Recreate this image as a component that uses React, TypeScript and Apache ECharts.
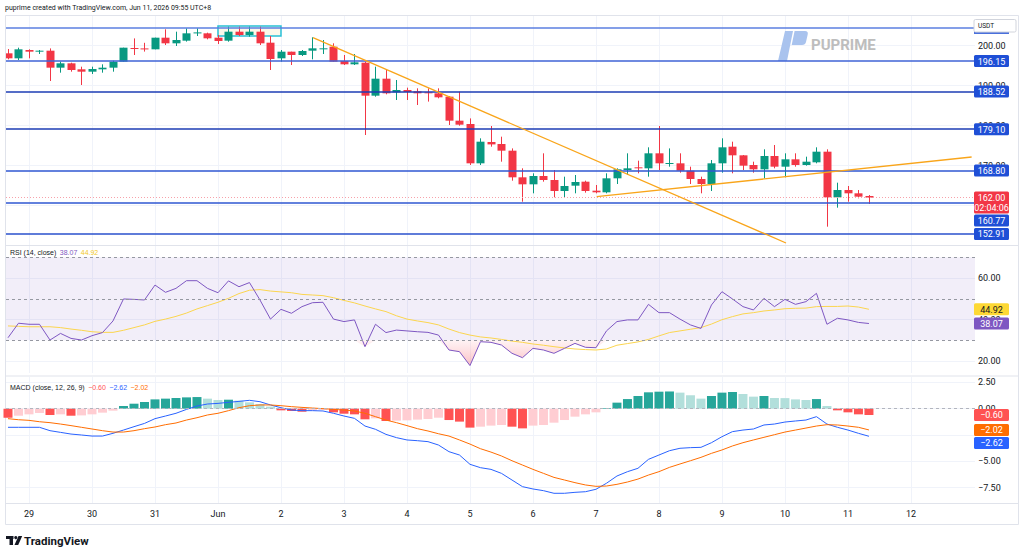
import React, { useEffect, useRef } from "react";
import * as echarts from "echarts";

const FONT = "Roboto, 'Liberation Sans', Arial, sans-serif";
const TEXT = "#131722";
const GRID = "#f0f3fa";
const BORDER = "#e0e3eb";
const UP = "#089981";
const DOWN = "#f23645";

// 4H candles from May 28 16:00 to Jun 11 08:00 (UTC+8): [open, close, low, high]
const candles: number[][] = [
  [198.07, 196.82, 196.57, 199.15], [196.82, 199.07, 196.4, 199.48], [198.9, 198.48, 196.82, 199.07],
  [198.48, 198.73, 197.9, 198.9], [198.73, 194.48, 191.15, 199.3], [194.48, 195.57, 193.23, 196.0],
  [195.57, 193.9, 193.48, 195.73], [194.07, 193.48, 190.15, 194.73], [193.48, 194.15, 192.9, 194.73],
  [194.07, 194.48, 193.23, 195.32], [194.48, 195.98, 193.48, 196.23], [195.98, 199.48, 195.98, 199.48],
  [199.4, 199.3, 197.65, 201.8], [199.3, 199.2, 198.5, 200.7], [199.07, 201.98, 199.07, 201.98],
  [201.98, 200.57, 200.15, 204.07], [200.57, 201.4, 199.9, 203.48], [201.23, 203.07, 201.0, 204.32],
  [203.07, 203.3, 202.4, 204.32], [203.07, 201.82, 201.57, 203.23], [201.98, 201.15, 200.4, 202.65],
  [201.23, 203.48, 200.98, 204.73], [203.48, 202.65, 202.4, 204.73], [202.65, 203.48, 202.23, 204.73],
  [203.48, 200.57, 200.15, 204.73], [200.73, 196.65, 193.9, 202.4], [196.82, 198.48, 195.98, 198.9],
  [198.48, 197.65, 195.15, 198.48], [197.65, 198.65, 197.4, 198.9], [198.73, 199.32, 196.57, 202.07],
  [199.07, 199.32, 197.9, 201.4], [199.73, 195.98, 195.98, 200.57], [196.15, 195.32, 195.15, 197.65],
  [195.32, 195.82, 195.15, 197.9], [195.73, 187.48, 177.65, 195.98], [187.48, 191.73, 187.23, 194.73],
  [191.73, 188.07, 187.82, 193.9], [188.32, 188.9, 186.4, 191.4], [188.9, 188.4, 186.4, 189.48],
  [188.57, 188.07, 185.15, 189.32], [188.32, 188.23, 186.0, 189.32], [188.07, 187.07, 186.82, 189.32],
  [187.23, 181.23, 180.15, 187.4], [181.23, 180.23, 179.98, 188.48], [180.4, 170.57, 170.15, 181.8],
  [170.57, 175.98, 170.15, 176.82], [175.9, 175.3, 174.73, 179.9], [175.4, 173.73, 170.98, 177.23],
  [173.73, 167.07, 166.23, 174.3], [167.07, 165.32, 160.98, 169.32], [165.32, 167.4, 163.07, 168.07],
  [167.4, 166.4, 165.98, 173.07], [166.4, 163.65, 162.07, 168.9], [163.65, 164.9, 161.98, 167.23],
  [164.98, 165.9, 163.07, 167.65], [165.98, 163.65, 163.23, 166.23], [163.73, 163.32, 163.07, 165.15],
  [163.32, 166.82, 163.07, 168.07], [166.82, 169.07, 165.4, 169.32], [168.9, 169.32, 167.65, 173.07],
  [169.57, 169.32, 168.07, 171.23], [169.32, 173.07, 167.23, 174.57], [173.07, 170.57, 168.9, 179.9],
  [170.4, 170.65, 169.73, 174.3], [170.57, 168.73, 168.23, 173.07], [168.73, 166.65, 165.4, 169.73],
  [166.65, 165.4, 163.07, 167.23], [165.4, 170.57, 163.65, 171.4], [170.57, 174.57, 168.23, 176.82],
  [174.73, 172.57, 168.07, 175.98], [172.57, 169.98, 168.9, 172.65], [170.15, 169.07, 168.23, 170.98],
  [169.07, 172.4, 166.82, 174.07], [172.4, 169.73, 169.32, 175.15], [169.73, 171.57, 167.07, 173.07],
  [171.57, 170.15, 169.73, 173.07], [170.15, 170.98, 169.98, 172.23], [170.82, 173.48, 170.57, 174.57],
  [173.48, 162.07, 154.73, 174.07], [162.07, 163.9, 159.48, 165.73], [163.9, 163.07, 160.98, 164.9],
  [163.07, 162.23, 161.82, 163.9], [162.4, 162.0, 160.4, 162.65],
];

const dayLabels = ["29", "30", "31", "Jun", "2", "3", "4", "5", "6", "7", "8", "9", "10", "11", "12"];
const firstDayIndex = 2; // candle index of May 29 00:00
const candlesPerDay = 6;

const topLevel = 204.4;
const levels = [196.15, 188.52, 179.1, 168.8, 160.77, 152.91];
const lastPrice = 162.0;
const countdown = "02:04:06";
const trendDown = [[29.05, 201.97], [74.1, 150.65]];
const trendUp = [[56.07, 162.22], [91.78, 172.15]];
const boxZone = [[20, 204.9], [26, 202.4]];

const rsi = [
  31.2, 38.2, 37.7, 37.7, 30.1, 33.3, 30.9, 30.1, 32.2, 33.7,
  39.3, 49.9, 49.7, 49.4, 56.6, 53.1, 55.0, 58.7, 58.7, 55.0,
  52.9, 58.6, 55.8, 57.8, 49.4, 40.2, 44.9, 43.0, 46.2, 48.1,
  48.3, 40.2, 39.0, 39.8, 26.9, 37.7, 33.7, 34.9, 34.5, 34.1,
  33.8, 32.5, 25.3, 24.5, 17.8, 29.3, 29.0, 27.7, 23.7, 21.6,
  26.1, 25.3, 23.7, 26.1, 28.5, 26.6, 26.4, 34.5, 39.0, 39.8,
  39.8, 47.3, 43.3, 43.3, 40.2, 37.4, 35.7, 47.0, 53.4, 49.9,
  46.2, 44.6, 50.2, 46.2, 49.7, 47.3, 48.6, 52.6, 37.7, 40.6,
  39.8, 38.6, 38.07,
];
const rsiMa = [
  36.9, 36.7, 36.5, 36.5, 36.5, 36.1, 35.4, 34.8, 34.1, 33.8,
  33.8, 34.8, 36.1, 37.4, 39.1, 40.2, 41.5, 43.1, 45.1, 46.7,
  48.3, 50.2, 52.5, 54.1, 54.4, 53.7, 53.3, 52.9, 52.1, 51.8,
  51.5, 50.5, 49.2, 48.0, 46.5, 45.1, 43.8, 41.8, 40.2, 39.3,
  38.5, 37.4, 35.4, 33.7, 32.5, 31.6, 31.1, 30.4, 29.6, 29.0,
  28.2, 27.6, 26.9, 26.3, 25.8, 25.5, 25.3, 25.8, 27.6, 28.4,
  29.2, 30.4, 32.1, 33.7, 34.5, 35.3, 36.1, 37.8, 39.9, 41.4,
  42.7, 43.3, 44.1, 44.6, 45.2, 45.4, 45.5, 46.2, 46.3, 46.3,
  46.5, 46.0, 44.92,
];
const rsiBands = [70, 50, 30];

const macd = [
  -1.77, -1.77, -1.77, -1.77, -2.09, -2.25, -2.41, -2.5, -2.6, -2.6,
  -2.34, -2.03, -1.71, -1.4, -0.95, -0.7, -0.44, -0.07, 0.25, 0.44,
  0.5, 0.6, 0.69, 0.79, 0.66, 0.35, 0.09, -0.13, -0.19, -0.19,
  -0.22, -0.44, -0.7, -0.92, -1.65, -1.96, -2.44, -2.75, -2.97, -3.04,
  -3.13, -3.45, -4.08, -4.4, -5.28, -5.6, -5.76, -6.14, -6.77, -7.4,
  -7.62, -7.78, -8.03, -8.03, -7.94, -7.88, -7.65, -7.08, -6.39, -5.98,
  -5.66, -4.81, -4.4, -3.99, -3.76, -3.7, -3.67, -3.23, -2.66, -2.18,
  -2.03, -1.93, -1.55, -1.46, -1.27, -1.17, -1.08, -0.76, -1.46, -1.77,
  -2.03, -2.34, -2.62,
];
const signal = [
  -0.95, -1.05, -1.11, -1.24, -1.33, -1.46, -1.61, -1.77, -1.93, -2.09,
  -2.22, -2.22, -2.09, -1.9, -1.74, -1.52, -1.36, -1.08, -0.86, -0.6,
  -0.44, -0.19, 0.09, 0.28, 0.35, 0.35, 0.28, 0.19, 0.12, 0.06,
  0.0, -0.07, -0.13, -0.22, -0.44, -0.76, -1.08, -1.33, -1.61, -1.9,
  -2.12, -2.38, -2.6, -2.97, -3.36, -3.8, -4.12, -4.49, -4.94, -5.35,
  -5.76, -6.14, -6.52, -6.77, -7.02, -7.24, -7.37, -7.34, -7.18, -6.96,
  -6.68, -6.3, -5.98, -5.57, -5.25, -4.94, -4.62, -4.24, -3.92, -3.54,
  -3.23, -2.97, -2.72, -2.47, -2.22, -2.03, -1.84, -1.65, -1.52, -1.55,
  -1.65, -1.77, -2.02,
];
const hist = [
  -0.86, -0.67, -0.54, -0.41, -0.6, -0.54, -0.67, -0.64, -0.54, -0.38,
  -0.19, 0.25, 0.47, 0.63, 0.88, 0.95, 1.01, 1.07, 1.1, 0.95,
  0.82, 0.85, 0.76, 0.6, 0.44, 0.19, -0.16, -0.22, -0.29, -0.19,
  -0.13, -0.35, -0.48, -0.54, -1.01, -0.92, -1.17, -1.14, -1.11, -1.04,
  -0.98, -0.86, -1.08, -1.23, -1.8, -1.71, -1.61, -1.55, -1.71, -1.87,
  -1.61, -1.55, -1.33, -1.08, -0.76, -0.54, -0.35, 0.06, 0.57, 0.91,
  1.2, 1.55, 1.61, 1.63, 1.52, 1.27, 0.95, 1.2, 1.52, 1.58,
  1.39, 1.14, 1.2, 1.01, 1.0, 0.88, 0.82, 0.91, 0.25, -0.16,
  -0.35, -0.54, -0.6,
];

// horizontal scale: candle index, shared by the three panes
const X_MIN = -0.19;
const X_MAX = 92.1;
const dayTicks = dayLabels.map((_, i) => firstDayIndex + i * candlesPerDay);

const fmt = (v: number) => (v < 0 ? "\u2212" : "") + Math.abs(v).toFixed(2);

function xAxis(gridIndex: number, labels: boolean) {
  return {
    type: "value",
    gridIndex,
    min: X_MIN,
    max: X_MAX,
    axisLine: { show: false },
    axisTick: { show: false, customValues: dayTicks },
    splitLine: { show: true, lineStyle: { color: GRID, width: 1 } },
    axisLabel: {
      show: labels,
      customValues: dayTicks,
      margin: 6,
      color: TEXT,
      fontFamily: FONT,
      fontSize: 9,
      formatter: (v: number) => dayLabels[Math.round((v - firstDayIndex) / candlesPerDay)] ?? "",
    },
  };
}

// grid lines at every tick; labels only where the scale shows them
function yAxis(gridIndex: number, min: number, max: number, ticks: number[], labels: number[]) {
  return {
    type: "value",
    gridIndex,
    position: "right",
    min,
    max,
    axisLine: { show: false },
    axisTick: { show: false, customValues: ticks },
    splitLine: { show: true, lineStyle: { color: GRID, width: 1 } },
    axisLabel: {
      customValues: labels,
      margin: 3,
      color: TEXT,
      fontFamily: FONT,
      fontSize: 9,
      formatter: fmt,
    },
  };
}

const histColors = hist.map((h, i) => {
  const prev = i > 0 ? hist[i - 1] : undefined;
  if (h >= 0) return prev === undefined || h > prev ? "#26a69a" : "#b2dfdb";
  return prev === undefined || h < prev ? "#ff5252" : "#ffcdd2";
});

const levelColors = ["#3f63d6", "#1c3db5", "#1c3db5", "#2f57d2", "#2f57d2", "#2a50cc"];

function buildOption() {
  const idx = (arr: number[]) => arr.map((v, k) => [k, v]);
  return {
    animation: false,
    backgroundColor: "#ffffff",
    grid: [
      { left: 6, right: 49, top: 15, height: 230 },
      { left: 6, right: 49, top: 246, height: 127 },
      { left: 6, right: 49, top: 377, height: 126 },
    ],
    xAxis: [xAxis(0, false), xAxis(1, false), xAxis(2, true)],
    yAxis: [
      yAxis(0, 150.15, 207.65, [160, 170, 180, 190, 200], [170, 180, 190, 200]),
      yAxis(1, 14.22, 75.42, [20, 40, 60], [20, 40, 60]),
      yAxis(2, -8.951, 3.003, [-7.5, -5, -2.5, 0, 2.5], [-7.5, -5, 0, 2.5]),
    ],
    series: [
      {
        type: "custom",
        name: "price",
        xAxisIndex: 0,
        yAxisIndex: 0,
        z: 3,
        clip: true,
        data: candles.map((c, k) => [k, c[0], c[1], c[2], c[3]]),
        encode: { x: 0, y: [1, 2, 3, 4] },
        renderItem: (_p: any, api: any) => {
          const k = api.value(0);
          const o = api.value(1);
          const c = api.value(2);
          const pO = api.coord([k, o]);
          const pC = api.coord([k, c]);
          const pL = api.coord([k, api.value(3)]);
          const pH = api.coord([k, api.value(4)]);
          const w = 8;
          const color = c >= o ? UP : DOWN;
          const cx = Math.round(pO[0]);
          const top = Math.min(pO[1], pC[1]);
          const bh = Math.max(Math.abs(pO[1] - pC[1]), 1);
          return {
            type: "group",
            children: [
              {
                type: "line",
                shape: { x1: cx + 0.5, y1: pH[1], x2: cx + 0.5, y2: pL[1] },
                style: { stroke: color, lineWidth: 1 },
              },
              {
                type: "rect",
                shape: { x: cx + 0.5 - w / 2, y: top, width: w, height: bh },
                style: { fill: color },
              },
            ],
          };
        },
      },
      {
        type: "line",
        name: "drawings",
        xAxisIndex: 0,
        yAxisIndex: 0,
        z: 4,
        silent: true,
        symbol: "none",
        data: candles.map((c, k) => [k, c[1]]),
        lineStyle: { opacity: 0 },
        markLine: {
          silent: true,
          symbol: ["none", "none"],
          label: { show: false },
          animation: false,
          data: [
            { yAxis: topLevel, lineStyle: { color: "#5b7fe0", width: 1.5, type: "solid" } },
            ...levels.map((p, i) => ({
              yAxis: p,
              lineStyle: { color: levelColors[i], width: 1.5, type: "solid" },
            })),
            { yAxis: lastPrice, lineStyle: { color: "#f7a1aa", width: 1, type: [1, 2] } },
            [
              { coord: trendDown[0], lineStyle: { color: "#f9a51a", width: 1.3, type: "solid" } },
              { coord: trendDown[1] },
            ],
            [
              { coord: trendUp[0], lineStyle: { color: "#f9a51a", width: 1.3, type: "solid" } },
              { coord: trendUp[1] },
            ],
          ],
        },
        markArea: {
          silent: true,
          data: [
            [
              {
                coord: boxZone[0],
                itemStyle: { color: "rgba(240, 225, 160, 0.22)", borderColor: "#29c0d6", borderWidth: 1.5 },
              },
              { coord: boxZone[1] },
            ],
          ],
        },
      },
      {
        type: "line",
        name: "rsiBand",
        xAxisIndex: 1,
        yAxisIndex: 1,
        z: 1,
        silent: true,
        symbol: "none",
        data: idx(rsi).map(([k, v]) => [k, Math.min(v, 30)]),
        lineStyle: { width: 0, opacity: 0 },
        areaStyle: {
          origin: 30,
          color: new echarts.graphic.LinearGradient(0, 0, 0, 1, [
            { offset: 0, color: "rgba(255, 205, 210, 0.35)" },
            { offset: 1, color: "rgba(242, 54, 69, 0.45)" },
          ]),
        },
        markArea: {
          silent: true,
          itemStyle: { color: "rgba(126, 87, 194, 0.1)" },
          data: [[{ yAxis: 70 }, { yAxis: 30 }]],
        },
        markLine: {
          silent: true,
          symbol: ["none", "none"],
          label: { show: false },
          lineStyle: { color: "#9598a1", width: 1, type: [3, 3] },
          data: rsiBands.map((b) => ({ yAxis: b })),
        },
      },
      {
        type: "line",
        name: "RSI",
        xAxisIndex: 1,
        yAxisIndex: 1,
        z: 3,
        symbol: "none",
        data: idx(rsi),
        lineStyle: { color: "#7e57c2", width: 1 },
      },
      {
        type: "line",
        name: "RSI MA",
        xAxisIndex: 1,
        yAxisIndex: 1,
        z: 2,
        symbol: "none",
        data: idx(rsiMa),
        lineStyle: { color: "#fbd54e", width: 1 },
      },
      {
        type: "bar",
        name: "Histogram",
        xAxisIndex: 2,
        yAxisIndex: 2,
        barWidth: 9,
        z: 2,
        data: hist.map((h, k) => ({ value: [k, h], itemStyle: { color: histColors[k] } })),
        markLine: {
          silent: true,
          symbol: ["none", "none"],
          label: { show: false },
          lineStyle: { color: "#b2b5be", width: 1, type: [3, 3] },
          data: [{ yAxis: 0 }],
        },
      },
      {
        type: "line",
        name: "MACD",
        xAxisIndex: 2,
        yAxisIndex: 2,
        z: 3,
        symbol: "none",
        data: idx(macd),
        lineStyle: { color: "#2962ff", width: 1 },
      },
      {
        type: "line",
        name: "Signal",
        xAxisIndex: 2,
        yAxisIndex: 2,
        z: 3,
        symbol: "none",
        data: idx(signal),
        lineStyle: { color: "#ff6d00", width: 1 },
      },
    ],
  };
}

const LOGO_P =
  "M7 0 L15 0 L9 30 L0 30 Z M16.6 0 L27 0 Q30.5 0 29.7 3.5 L28 11 Q27.3 14 24 14 L13.7 14 Z";
echarts.graphic.registerShape("puLogo", echarts.graphic.extendPath(LOGO_P, {}) as any);

type Tag = { axis: number; value: number; fill: string; color: string; lines: string[] };

export default function App() {
  const ref = useRef<HTMLDivElement>(null);

  useEffect(() => {
    if (!ref.current) return;
    const chart = echarts.init(ref.current, null, { renderer: "svg" });
    chart.setOption(buildOption() as any);

    const yPx = (axis: number, v: number) => chart.convertToPixel({ yAxisIndex: axis } as any, v) as unknown as number;

    // price-scale tags, pushed down when they would overlap
    const paneTags: Tag[][] = [
      [
        ...levels.slice(0, 4).map((p) => ({ axis: 0, value: p, fill: "#1f4fd6", color: "#fff", lines: [p.toFixed(2)] })),
        { axis: 0, value: lastPrice, fill: DOWN, color: "#fff", lines: [lastPrice.toFixed(2), countdown] },
        ...levels.slice(4).map((p) => ({ axis: 0, value: p, fill: "#1f4fd6", color: "#fff", lines: [p.toFixed(2)] })),
      ],
      [
        { axis: 1, value: rsiMa[rsiMa.length - 1], fill: "#fdd835", color: TEXT, lines: [fmt(rsiMa[rsiMa.length - 1])] },
        { axis: 1, value: rsi[rsi.length - 1], fill: "#7e57c2", color: "#fff", lines: [fmt(rsi[rsi.length - 1])] },
      ],
      [
        { axis: 2, value: hist[hist.length - 1], fill: "#ff5252", color: "#fff", lines: [fmt(hist[hist.length - 1])] },
        { axis: 2, value: signal[signal.length - 1], fill: "#ff6d00", color: "#fff", lines: [fmt(signal[signal.length - 1])] },
        { axis: 2, value: macd[macd.length - 1], fill: "#2962ff", color: "#fff", lines: [fmt(macd[macd.length - 1])] },
      ],
    ];

    const tagEls: any[] = [];
    paneTags.forEach((tags) => {
      let prevBottom = -Infinity;
      tags.forEach((t) => {
        const y = yPx(t.axis, t.value);
        const h = t.lines.length > 1 ? 22 : 12;
        let top = y - 6;
        if (top < prevBottom + 1) top = prevBottom + 1;
        prevBottom = top + h;
        tagEls.push({
          type: "rect",
          z: 50,
          shape: { x: 974, y: top, width: 35, height: h, r: 1.5 },
          style: { fill: t.fill },
        });
        t.lines.forEach((line, i) => {
          tagEls.push({
            type: "text",
            z: 51,
            x: 991.5,
            y: top + 6.5 + i * 10,
            style: {
              text: line,
              fill: t.color,
              fontFamily: FONT,
              fontSize: 9,
              align: "center",
              verticalAlign: "middle",
            },
          });
        });
      });
    });

    const yTop = yPx(0, topLevel);

    chart.setOption({
      graphic: [
        // frame and pane separators
        { type: "rect", z: 0, shape: { x: 5.5, y: 15.5, width: 1013, height: 509 }, style: { fill: "none", stroke: BORDER, lineWidth: 1 } },
        { type: "line", z: 0, shape: { x1: 5, y1: 245.5, x2: 1019, y2: 245.5 }, style: { stroke: BORDER, lineWidth: 1 } },
        { type: "line", z: 0, shape: { x1: 5, y1: 376, x2: 1019, y2: 376 }, style: { stroke: BORDER, lineWidth: 1 } },
        { type: "line", z: 0, shape: { x1: 5, y1: 503.5, x2: 1019, y2: 503.5 }, style: { stroke: BORDER, lineWidth: 1 } },
        // header
        {
          type: "text",
          x: 5,
          y: 7.5,
          style: { text: "puprime created with TradingView.com, Jun 11, 2026 09:55 UTC+8", fill: TEXT, fontFamily: FONT, fontSize: 7, verticalAlign: "middle" },
        },
        // watermark
        { type: "puLogo", z: 1, x: 778, y: 31, style: { fill: "#a9c3ee" } },
        {
          type: "text",
          z: 1,
          x: 811,
          y: 45,
          style: { text: "PUPRIME", fill: "#bdbdbd", fontFamily: FONT, fontSize: 15, fontWeight: "bold", verticalAlign: "middle" },
        },
        // pane legends
        {
          type: "text",
          z: 20,
          x: 10,
          y: 252.5,
          style: {
            text: "{a|RSI (14, close)}  {p|" + fmt(rsi[rsi.length - 1]) + "}  {m|" + fmt(rsiMa[rsiMa.length - 1]) + "}",
            fontFamily: FONT,
            fontSize: 7,
            verticalAlign: "middle",
            rich: { a: { fill: TEXT, fontSize: 7 }, p: { fill: "#7e57c2", fontSize: 7 }, m: { fill: "#f2c91f", fontSize: 7 } },
          },
        },
        {
          type: "text",
          z: 20,
          x: 10,
          y: 387,
          style: {
            text:
              "{a|MACD (close, 12, 26, 9)}  {h|" + fmt(hist[hist.length - 1]) + "}  {m|" + fmt(macd[macd.length - 1]) + "}  {s|" + fmt(signal[signal.length - 1]) + "}",
            fontFamily: FONT,
            fontSize: 7,
            verticalAlign: "middle",
            rich: { a: { fill: TEXT, fontSize: 7 }, h: { fill: "#ff5252", fontSize: 7 }, m: { fill: "#2962ff", fontSize: 7 }, s: { fill: "#ff6d00", fontSize: 7 } },
          },
        },
        // hidden top-level tag under the currency box
        { type: "rect", z: 49, shape: { x: 974, y: yTop - 6, width: 35, height: 12 }, style: { fill: "#4a70dc" } },
        { type: "rect", z: 50, shape: { x: 974, y: 19.5, width: 42, height: 12.5, r: 1.5 }, style: { fill: "#ffffff", stroke: "#d1d4dc", lineWidth: 1 } },
        { type: "text", z: 51, x: 978, y: 26, style: { text: "USDT", fill: TEXT, fontFamily: FONT, fontSize: 6.5, verticalAlign: "middle" } },
        ...tagEls,
        // TradingView mark
        { type: "rect", z: 20, shape: { x: 6, y: 536, width: 7.5, height: 3 }, style: { fill: TEXT } },
        { type: "rect", z: 20, shape: { x: 9.5, y: 536, width: 3.5, height: 9 }, style: { fill: TEXT } },
        { type: "circle", z: 20, shape: { cx: 15.8, cy: 537.6, r: 1.6 }, style: { fill: TEXT } },
        { type: "polygon", z: 20, shape: { points: [[18.5, 536], [22.2, 536], [18.2, 545], [14.5, 545]] }, style: { fill: TEXT } },
        {
          type: "text",
          z: 20,
          x: 24,
          y: 541,
          style: { text: "TradingView", fill: TEXT, fontFamily: FONT, fontSize: 11.5, fontWeight: "bold", verticalAlign: "middle" },
        },
      ],
    } as any);

    return () => chart.dispose();
  }, []);

  return <div ref={ref} style={{ position: "fixed", left: 0, top: 0, width: 1024, height: 558 }} />;
}
